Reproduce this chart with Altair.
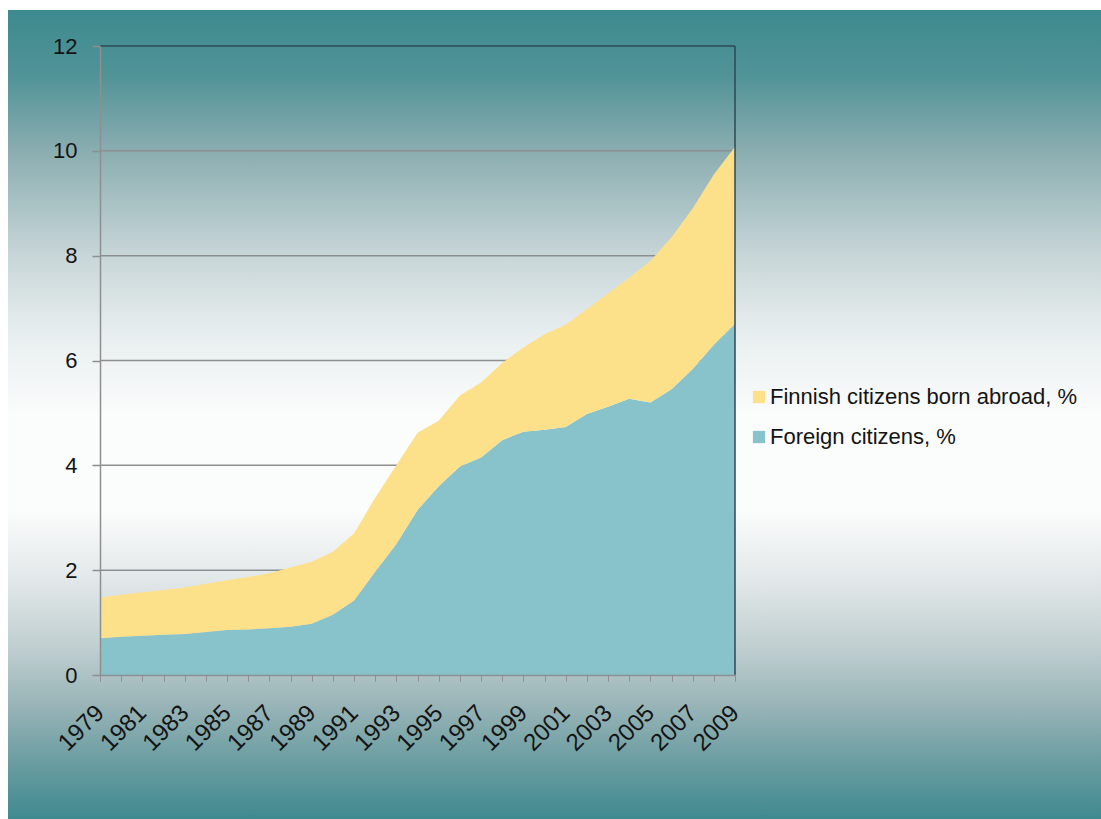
import altair as alt
import pandas as pd

# Share of the population, %, by year
years = list(range(1979, 2010))
foreign_citizens = [
    0.70, 0.73, 0.75, 0.77, 0.78, 0.82, 0.86, 0.87, 0.89, 0.92,
    0.98, 1.15, 1.42, 1.97, 2.50, 3.15, 3.60, 3.98, 4.15, 4.48,
    4.64, 4.68, 4.73, 4.98, 5.12, 5.27, 5.20, 5.45, 5.84, 6.30,
    6.70,
]
finnish_born_abroad = [
    0.78, 0.80, 0.83, 0.85, 0.89, 0.92, 0.95, 1.00, 1.05, 1.13,
    1.18, 1.20, 1.28, 1.41, 1.50, 1.47, 1.25, 1.35, 1.43, 1.47,
    1.61, 1.82, 1.95, 2.00, 2.16, 2.31, 2.70, 2.90, 3.06, 3.25,
    3.38,
]

series_names = ["Finnish citizens born abroad, %", "Foreign citizens, %"]
series_colors = ["#fde08a", "#88c3cc"]
y_tick_values = [0, 2, 4, 6, 8, 10, 12]
grid_values = [2, 4, 6, 8, 10]

FONT = "Liberation Sans, Arial, sans-serif"
TEXT = "#141414"
GRID = "#8d8f90"
FRAME = "#2c4855"

W, H = 635, 629

rows = []
for i, yr in enumerate(years):
    rows.append({"year": yr, "series": series_names[1],
                 "value": foreign_citizens[i], "stack_order": 0})
    rows.append({"year": yr, "series": series_names[0],
                 "value": finnish_born_abroad[i], "stack_order": 1})
df = pd.DataFrame(rows)

x_scale = alt.Scale(domain=[1979, 2009], nice=False, zero=False)
y_scale = alt.Scale(domain=[0, 12], nice=False)

y_axis = alt.Axis(
    values=y_tick_values, labelFontSize=22, labelFont=FONT,
    labelColor=TEXT, labelPadding=15, tickSize=8,
    tickColor=GRID, tickWidth=1.5, domainColor=GRID,
    domainWidth=1.5, grid=False, zindex=1,
)

# Slide-style backdrop: teal at top and bottom, white through the middle
backdrop_fill = alt.LinearGradient(
    gradient="linear",
    x1=0, x2=0, y1=0, y2=1,
    stops=[
        alt.GradientStop(offset=0.00, color="#3d8a8e"),
        alt.GradientStop(offset=0.08, color="#509397"),
        alt.GradientStop(offset=0.17, color="#88acaf"),
        alt.GradientStop(offset=0.30, color="#c6d5d7"),
        alt.GradientStop(offset=0.40, color="#e8eeef"),
        alt.GradientStop(offset=0.50, color="#fbfcfc"),
        alt.GradientStop(offset=0.62, color="#fbfcfc"),
        alt.GradientStop(offset=0.71, color="#e0e6e7"),
        alt.GradientStop(offset=0.79, color="#bfced0"),
        alt.GradientStop(offset=0.86, color="#98b4b7"),
        alt.GradientStop(offset=0.93, color="#6a9da1"),
        alt.GradientStop(offset=1.00, color="#3f8a8f"),
    ],
)

backdrop = alt.Chart(pd.DataFrame({"k": [0]})).mark_rect(
    fill=backdrop_fill, strokeWidth=0
).encode(
    x=alt.value(-92), x2=alt.value(1001),
    y=alt.value(-36), y2=alt.value(773),
)

grid = alt.Chart(pd.DataFrame({"value": grid_values})).mark_rule(
    color=GRID, strokeWidth=1.5
).encode(
    y=alt.Y("value:Q", scale=y_scale, title=None, axis=y_axis),
    x=alt.value(0), x2=alt.value(W),
)

top_line = alt.Chart(pd.DataFrame({"value": [12]})).mark_rule(
    color=FRAME, strokeWidth=1.5
).encode(
    y=alt.Y("value:Q", scale=y_scale, title=None, axis=y_axis),
    x=alt.value(0), x2=alt.value(W),
)

areas = alt.Chart(df).mark_area(interpolate="linear", opacity=1).encode(
    x=alt.X(
        "year:Q", scale=x_scale, title=None,
        axis=alt.Axis(
            values=years, format="d",
            labelExpr="datum.value % 2 == 1 ? datum.label : ''",
            labelAngle=-45, labelAlign="right", labelBaseline="middle",
            labelPadding=28, labelFontSize=24, labelFont=FONT,
            labelColor=TEXT, labelOverlap=False, labelFlush=False,
            tickSize=6, tickColor=GRID, tickWidth=1,
            domainColor=GRID, domainWidth=1.5, grid=False, zindex=1,
        ),
    ),
    y=alt.Y("value:Q", stack="zero", scale=y_scale, title=None, axis=y_axis),
    color=alt.Color(
        "series:N",
        scale=alt.Scale(domain=series_names, range=series_colors),
        legend=alt.Legend(
            title=None, orient="none", legendX=648, legendY=340,
            direction="vertical", symbolType="square", symbolSize=150,
            symbolStrokeWidth=0, symbolOpacity=1,
            labelFontSize=22, labelFont=FONT, labelColor=TEXT,
            labelOffset=0, rowPadding=18, labelLimit=400,
        ),
    ),
    order=alt.Order("stack_order:Q", sort="ascending"),
)

right_line = alt.Chart(pd.DataFrame({"k": [0]})).mark_rule(
    color=FRAME, strokeWidth=1.5
).encode(
    x=alt.value(W), y=alt.value(0), y2=alt.value(H),
)

chart = alt.layer(backdrop, grid, top_line, areas, right_line).properties(
    width=W, height=H,
    padding={"left": 100, "top": 46, "right": 366, "bottom": 144},
    autosize=alt.AutoSizeParams(type="none"),
    background="white",
).configure_view(strokeWidth=0)

chart.save("out.html", embed_options={"renderer": "svg", "actions": False})
